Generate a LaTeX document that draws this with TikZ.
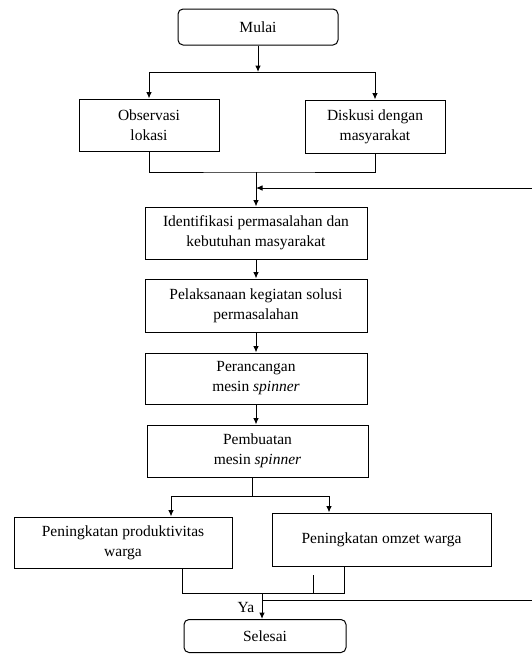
\documentclass[tikz,border=0pt]{standalone}
\usepackage{fontspec}
\setmainfont{Liberation Serif}
\usetikzlibrary{arrows.meta}
\begin{document}
\begin{tikzpicture}[x=1pt,y=-1pt,line width=1pt,>={Latex[length=6.5pt,width=5.5pt]},
  stepbox/.style={draw,rectangle,align=center,inner sep=0pt,font=\fontsize{15.5}{20}\selectfont},
  endbox/.style={stepbox,rounded corners=5pt}]
\useasboundingbox (0,0) rectangle (532,654);
\node[endbox, minimum width=160pt, minimum height=36pt] (mulai) at (258,27) {Mulai};
\node[stepbox, minimum width=140pt, minimum height=52pt] (obs) at (149,125) {Observasi\\lokasi};
\node[stepbox, minimum width=140pt, minimum height=53pt] (disk) at (375,126.5) {Diskusi dengan\\masyarakat};
\node[stepbox, minimum width=222pt, minimum height=52pt] (ident) at (256,233) {Identifikasi permasalahan dan\\kebutuhan masyarakat};
\node[stepbox, minimum width=222pt, minimum height=53pt] (pelak) at (256,305.5) {Pelaksanaan kegiatan solusi\\permasalahan};
\node[stepbox, minimum width=222pt, minimum height=51pt] (peran) at (256,378.5) {Perancangan\\mesin \textit{spinner}};
\node[stepbox, minimum width=221pt, minimum height=52pt] (pemb) at (257.5,451) {Pembuatan\\mesin \textit{spinner}};
\node[stepbox, minimum width=218pt, minimum height=51pt] (prod) at (123,542.5) {Peningkatan produktivitas\\warga};
\node[stepbox, minimum width=219pt, minimum height=53pt] (omzet) at (381.5,539.5) {Peningkatan omzet warga};
\node[endbox, minimum width=162pt, minimum height=33pt] (selesai) at (265,636) {Selesai};
\node[font=\fontsize{15.5}{20}\selectfont] (ya) at (246,607) {Ya};
% titik cabang
\coordinate (s1) at (258,72);
\coordinate (j1) at (256,172);
\coordinate (m1) at (256,188);
\coordinate (fb1) at (532,188);
\coordinate (j2) at (252,496);
\coordinate (a3) at (171,496);
\coordinate (a4) at (329,496);
\coordinate (b1) at (182,593);
\coordinate (b2) at (344,593);
\coordinate (j3) at (262,593);
\coordinate (t1) at (313,575);
\coordinate (fb2) at (532,600);
% garis
\path[draw,->] (mulai) -- (s1);
\path[draw,->] (s1) -| (obs);
\path[draw,->] (s1) -| (disk);
\path[draw,-] (obs) |- (j1) -| (disk);
\path[draw,->] (j1) -- (ident);
\path[draw,->] (fb1) -- (m1);
\path[draw,->] (ident) -- (pelak);
\path[draw,->] (pelak) -- (peran);
\path[draw,->] (peran.south) -- (peran.south |- pemb.north);
\path[draw,-] (j2 |- pemb.south) -- (j2);
\path[draw,-] (a3) -- (a4);
\path[draw,->] (a3) -- (a3 |- prod.north);
\path[draw,->] (a4) -- (a4 |- omzet.north);
\path[draw,-] (b1 |- prod.south) -- (b1) -- (b2) -- (b2 |- omzet.south);
\path[draw,-] (t1) -- (t1 |- b1);
\path[draw,->] (j3) -- (j3 |- selesai.north);
\path[draw,-] (fb2) -- (fb2 -| j3);
\end{tikzpicture}
\end{document}
